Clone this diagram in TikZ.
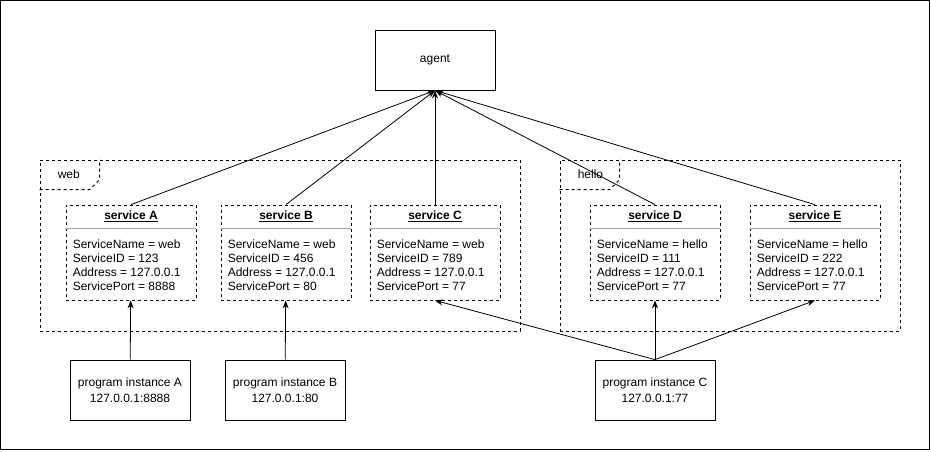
\documentclass[tikz,border=0pt]{standalone}
\usepackage{fontspec}
\setmainfont{Liberation Sans}
\usetikzlibrary{arrows.meta,positioning,calc}

\begin{document}
\begin{tikzpicture}[
  x=1pt, y=-1pt, >={Stealth[length=8pt,width=6pt]},
  every node/.style={font=\fontsize{12}{14.5}\selectfont},
  box/.style={draw, line width=0.8pt, minimum width=120pt, minimum height=60pt, align=center, inner sep=0pt},
  prog/.style={box, font=\fontsize{12}{16.5}\selectfont},
  grp/.style={draw, line width=0.8pt, dash pattern=on 3pt off 3pt, inner sep=0pt},
  grplbl/.style={anchor=west, inner sep=0pt},
  svc/.style={draw, line width=0.8pt, dash pattern=on 3pt off 3pt, minimum width=130pt, minimum height=95pt, inner sep=0pt},
  svctitle/.style={anchor=base, inner sep=0pt, font=\fontsize{12}{14}\selectfont\bfseries},
  fields/.style={anchor=north west, align=left, inner sep=0pt, font=\fontsize{12}{14}\selectfont},
  divider/.style={gray!70, line width=0.8pt},
  arr/.style={->, line width=0.8pt},
]
\useasboundingbox (0,0) rectangle (931,451);
\draw[line width=1pt] (0.5,0.5) rectangle (929.5,449.5);

% agent on top
\node[box] (agent) at (435,60) {agent};

% the two service groups
\node[grp, minimum width=480pt, minimum height=171pt] (web) at (280,245.5) {};
\draw[grp] ([yshift=-30pt]web.north west) -- ++(50,0) -- ++(10,-10) -- ++(0,-20);
\node[grplbl] (webl) at ([xshift=18pt,yshift=-15pt]web.north west) {web};

\node[grp, minimum width=340pt, minimum height=171pt] (hello) at (730,245.5) {};
\draw[grp] ([yshift=-30pt]hello.north west) -- ++(50,0) -- ++(10,-10) -- ++(0,-20);
\node[grplbl] (hellol) at ([xshift=18pt,yshift=-15pt]hello.north west) {hello};

% services
\foreach \id/\cx/\sname/\sid/\port in {A/131/web/123/8888, B/286/web/456/80, C/435/web/789/77, D/655/hello/111/77, E/815/hello/222/77}{
  \node[svc] (svc\id) at (\cx,252.5) {};
  \node[svctitle] (tit\id) at ([yshift=-15pt]svc\id.north) {\underline{service \id}};
  \draw[divider] ([yshift=-24pt]svc\id.north west) -- ([yshift=-24pt]svc\id.north east);
  \node[fields] (fld\id) at ([xshift=7pt,yshift=-34.5pt]svc\id.north west)
    {ServiceName = \sname\\ServiceID = \sid\\Address = 127.0.0.1\\ServicePort = \port};
  \draw[arr] (svc\id.north) -- (agent.south);
}

% program instances
\node[prog] (progA) at (130,390) {program instance A\\127.0.0.1:8888};
\node[prog] (progB) at (285,390) {program instance B\\127.0.0.1:80};
\node[prog] (progC) at (655,390) {program instance C\\127.0.0.1:77};

\draw[arr] (progA) -- (svcA);
\draw[arr] (progB) -- (svcB);
\draw[arr] (progC.north) -- (svcC.south);
\draw[arr] (progC.north) -- (svcD.south);
\draw[arr] (progC.north) -- (svcE.south);
\end{tikzpicture}
\end{document}
